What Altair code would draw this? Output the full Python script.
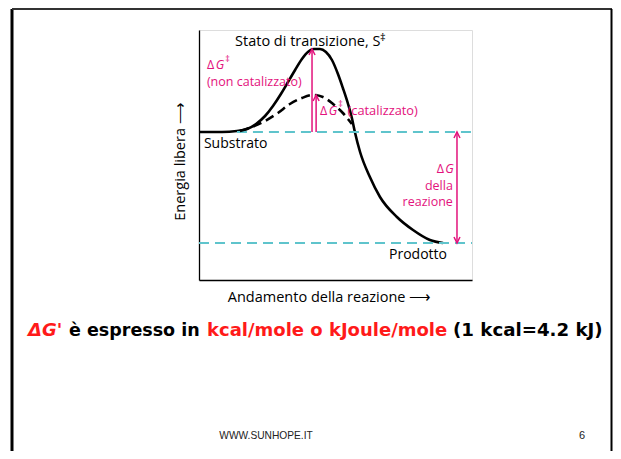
import altair as alt
import pandas as pd

# ---- data (reaction coordinate 0-100, free energy in arbitrary units 0-100) ----
solid_x = [0, 8.4, 13.9, 17.6, 20.9, 24.2, 27.1, 30.0, 32.6, 35.2, 37.7, 39.9, 42.1, 44.3,
           46.5, 48.7, 50.9, 52.7, 54.6, 56.0, 57.1, 59.0, 62.6, 66.3, 72.5, 78.4, 84.6, 89.4]
solid_y = [59.2, 59.2, 59.6, 60.4, 62.4, 65.6, 69.6, 74.4, 79.2, 84.0, 88.4, 91.2, 92.4, 92.4,
           91.2, 88.0, 82.4, 76.8, 70.4, 64.8, 59.2, 51.2, 41.2, 33.2, 25.2, 20.0, 16.0, 14.8]
dashed_x = [15.0, 19.4, 24.2, 28.9, 33.3, 37.7, 41.8, 45.4, 49.1, 52.7, 56.0]
dashed_y = [59.6, 61.2, 63.6, 66.8, 70.4, 72.8, 74.0, 73.2, 70.4, 66.8, 62.4]

substrate_level = 59.2
product_level = 14.8
peak_uncat = 92.4
peak_cat = 74.0

W, H = 273, 250
FONT = "Open Sans"
PINK = "#e3127c"
CYAN = "#5fc4cc"
RED = "#ff1a1a"

xs = alt.Scale(domain=[0, 100], nice=False, zero=False)
ys = alt.Scale(domain=[0, 100], nice=False, zero=False)

AX = alt.Axis(
    title="Andamento della reazione ⟶", ticks=False, labels=False, grid=False,
    domain=True, domainColor="black", domainWidth=1.3, titleFont=FONT,
    titleFontSize=14.5, titleFontWeight="normal", titleColor="black",
    titleX=130, titleY=17, titleAlign="center", titleBaseline="middle")
AY = alt.Axis(
    title="Energia libera ⟶", ticks=False, labels=False, grid=False,
    domain=True, domainColor="black", domainWidth=1.3, titleFont=FONT,
    titleFontSize=14.5, titleFontWeight="normal", titleColor="black",
    titleX=-19, titleY=131, titleAngle=270, titleAlign="center",
    titleBaseline="middle")

def X(field="x"):
    return alt.X(f"{field}:Q", scale=xs, axis=AX)

def Y(field="y"):
    return alt.Y(f"{field}:Q", scale=ys, axis=AY)

one = pd.DataFrame({"k": [0]})

# ---- curves ----
solid = alt.Chart(pd.DataFrame({"x": solid_x, "y": solid_y})).mark_line(
    color="black", strokeWidth=2.6, interpolate="monotone"
).encode(x=X(), y=Y())

dashed = alt.Chart(pd.DataFrame({"x": dashed_x, "y": dashed_y})).mark_line(
    color="black", strokeWidth=2.6, strokeDash=[9, 5], interpolate="monotone"
).encode(x=X(), y=Y())

levels = alt.Chart(pd.DataFrame({
    "x": [13.9, 0], "x2": [100, 100], "y": [substrate_level, product_level]
})).mark_rule(color=CYAN, strokeWidth=1.8, strokeDash=[10, 6]).encode(
    x=X(), x2="x2:Q", y=Y())

# ---- arrows ----
arrows = pd.DataFrame({
    "x": [41.4, 42.9, 94.5],
    "y": [substrate_level, substrate_level, product_level],
    "y2": [peak_uncat, peak_cat, substrate_level],
})
shafts = alt.Chart(arrows).mark_rule(color=PINK, strokeWidth=1.5).encode(
    x=X(), y=Y(), y2="y2:Q")

CHEV = "M -0.6 1.2 L 0 0 L 0.6 1.2"
heads_up = alt.Chart(pd.DataFrame({
    "x": [41.4, 42.9, 94.5], "y": [peak_uncat, peak_cat, substrate_level]
})).mark_point(shape=CHEV, filled=False, color=PINK, strokeWidth=1.5, size=100,
               opacity=1).encode(x=X(), y=Y())
heads_down = alt.Chart(pd.DataFrame({
    "x": [94.5], "y": [product_level]
})).mark_point(shape=CHEV, filled=False, color=PINK, strokeWidth=1.5, size=100,
               angle=180, opacity=1).encode(x=X(), y=Y())

# ---- labels in data coordinates ----
def label(text, x, y, size, color="black", style="normal", align="left"):
    return alt.Chart(pd.DataFrame({"x": [x], "y": [y], "t": [text]})).mark_text(
        align=align, baseline="middle", fontSize=size, font=FONT, color=color,
        fontStyle=style
    ).encode(x=X(), y=Y(), text="t:N")

labels = [
    label("Stato di transizione, S", 13.2, 95.2, 14.5),
    label("‡", 66.3, 97.0, 11),
    label("Δ", 2.9, 86.0, 12.5, PINK),
    label("G", 6.1, 86.0, 12.5, PINK, "italic"),
    label("‡", 9.6, 88.5, 9, PINK),
    label("(non catalizzato)", 2.9, 79.2, 12.5, PINK),
    label("Δ", 44.3, 67.7, 12.5, PINK),
    label("G", 47.5, 67.7, 12.5, PINK, "italic"),
    label("‡", 51.0, 70.4, 9, PINK),
    label("(catalizzato)", 54.4, 67.7, 12.8, PINK),
    label("Substrato", 1.8, 54.4, 14),
    label("Δ", 87.1, 44.6, 12.5, PINK),
    label("G", 90.2, 44.6, 12.5, PINK, "italic"),
    label("della", 93.0, 37.8, 12.5, PINK, align="right"),
    label("reazione", 93.0, 31.4, 12.5, PINK, align="right"),
    label("Prodotto", 69.6, 10.0, 14),
]

# ---- slide furniture (pixel offsets from the plot origin) ----
def px_text(text, px, py, size, color="black", weight="normal", style="normal",
            font="DejaVu Sans", align="left"):
    return alt.Chart(pd.DataFrame({"t": [text]})).mark_text(
        align=align, baseline="middle", fontSize=size, font=font, color=color,
        fontWeight=weight, fontStyle=style
    ).encode(x=alt.value(px), y=alt.value(py), text="t:N")

slide = [
    px_text("ΔG'", -171, 301, 18, RED, "bold", "italic"),
    px_text("è espresso in", -130, 301, 17.5, "black", "bold"),
    px_text("kcal/mole o kJoule/mole", 8, 301, 18, RED, "bold"),
    px_text("(1 kcal=4.2 kJ)", 254, 301, 18.2, "black", "bold"),
    px_text("WWW.SUNHOPE.IT", 67, 406, 10.2, "#222222", font="Liberation Sans",
            align="center"),
    px_text("6", 383, 406, 11, "#222222", font="Liberation Sans", align="center"),
]

border_left = alt.Chart(one).mark_rule(color="black", strokeWidth=3).encode(
    x=alt.value(-187), y=alt.value(-21), y2=alt.value(421))
border_top = alt.Chart(one).mark_rule(color="#333333", strokeWidth=2).encode(
    x=alt.value(-187), x2=alt.value(413), y=alt.value(-21))
border_right = alt.Chart(one).mark_rule(color="black", strokeWidth=2).encode(
    x=alt.value(412.5), y=alt.value(-21), y2=alt.value(421))

chart = alt.layer(
    solid, levels, dashed, shafts, heads_up, heads_down, *labels, *slide,
    border_left, border_top, border_right
).properties(
    width=W, height=H,
    autosize=alt.AutoSizeParams(type="none"),
    padding={"left": 191, "top": 22, "right": 141, "bottom": 171},
).configure_view(strokeWidth=0).configure(background="white")

chart.save("out.html", embed_options={"renderer": "svg", "actions": False})
